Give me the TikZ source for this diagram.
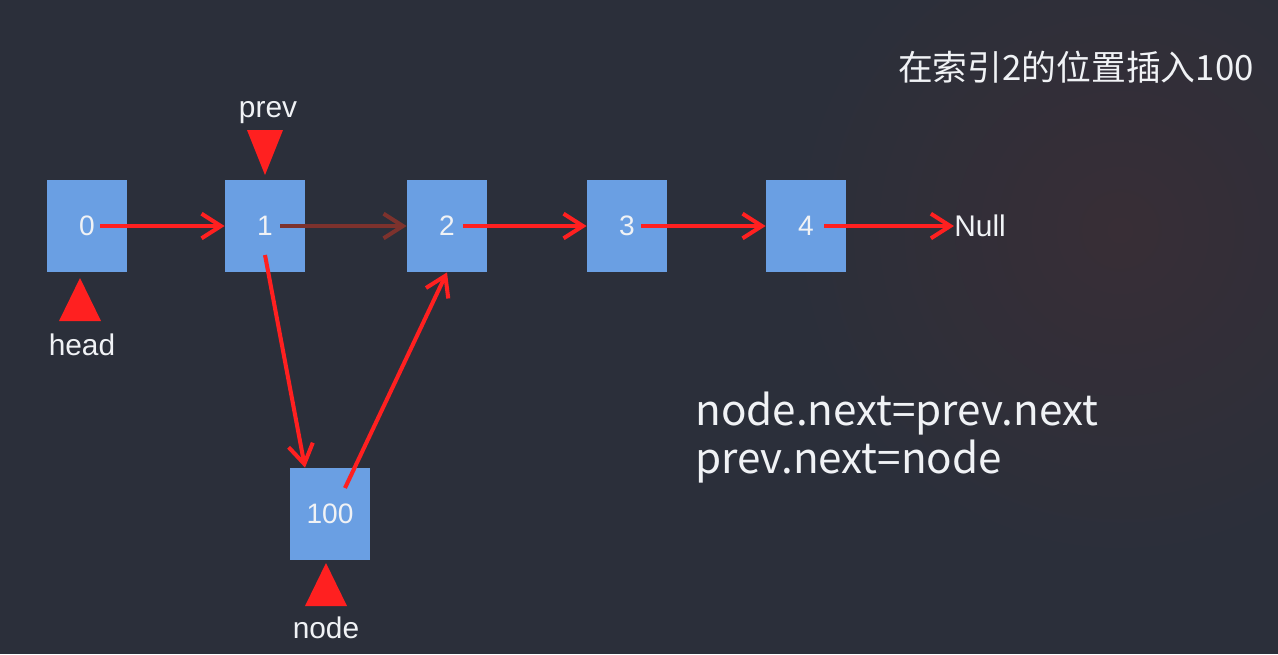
\documentclass[tikz,border=0pt]{standalone}
\usepackage{fontspec}
\setmainfont{Liberation Sans}
\newfontfamily\cjk{Noto Sans CJK SC}
\usetikzlibrary{arrows.meta}
\definecolor{bg}{RGB}{43,47,58}
\definecolor{blobA}{RGB}{66,60,88}
\definecolor{blobB}{RGB}{56,46,54}
\definecolor{boxblue}{RGB}{106,159,227}
\definecolor{rd}{RGB}{255,32,32}
\definecolor{dimrd}{RGB}{125,50,45}
\definecolor{txt}{RGB}{240,242,245}
\tikzset{
  cell/.style={fill=boxblue, minimum width=80*0.02cm, minimum height=92*0.02cm, inner sep=0pt,
    text=txt, font=\fontsize{16}{18}\selectfont},
  link/.style={draw=rd, line width=2.3pt, -{Straight Barb[length=11pt,width=14pt]}},
  oldlink/.style={link, draw=dimrd},
  ptr/.style={fill=rd},
  lbl/.style={text=txt, font=\fontsize{17}{20}\selectfont, inner sep=0pt},
}
\begin{document}
\begin{tikzpicture}[x=0.02cm,y=-0.02cm]
\path[use as bounding box, fill=bg] (0,0) rectangle (1278,654);
\begin{scope}
\clip (0,0) rectangle (1278,654);
\shade[inner color=blobB, outer color=bg] (1120,230) circle (330);
\end{scope}

\node[cell] (b0) at (87,226) {0};
\node[cell] (b1) at (265,226) {1};
\node[cell] (b2) at (447,226) {2};
\node[cell] (b3) at (627,226) {3};
\node[cell] (b4) at (806,226) {4};
\node[cell] (bn) at (330,514) {100};

\node[lbl, anchor=west] (null) at (954,226) {Null};

\draw[link] ([xshift=13*0.02cm]b0.center) -- (b0.center -| b1.west);
\draw[oldlink] ([xshift=15*0.02cm]b1.center) -- (b1.center -| b2.west);
\draw[link] ([xshift=16*0.02cm]b2.center) -- (b2.center -| b3.west);
\draw[link] ([xshift=14*0.02cm]b3.center) -- (b3.center -| b4.west);
\draw[link] ([xshift=18*0.02cm]b4.center) -- (null.west);

\draw[link] ([yshift=-29*0.02cm]b1.center) -- ([xshift=-25*0.02cm]bn.north);
\draw[link] ([xshift=15*0.02cm,yshift=26*0.02cm]bn.center) -- (b2.south);

% pointers
\fill[ptr] (247,130) -- (283,130) -- (265,175) -- cycle;
\fill[ptr] (80,278) -- (101,321) -- (59,321) -- cycle;
\fill[ptr] (326,563) -- (347,606) -- (305,606) -- cycle;

\node[lbl] (prev) at (268,113) {prev};
\node[lbl] (head) at (82,345) {head};
\node[lbl] (node) at (326,628) {node};

\node[text=txt, anchor=east, inner sep=0pt, font=\cjk\fontsize{19.8}{22}\selectfont] (title) at (1254,67) {在索引2的位置插入100};

\node[text=txt, anchor=north west, inner sep=0pt, align=left,
  font=\cjk\fontsize{24}{27}\selectfont] (code) at (695,392) {node.next=prev.next\\prev.next=node};
\end{tikzpicture}
\end{document}
